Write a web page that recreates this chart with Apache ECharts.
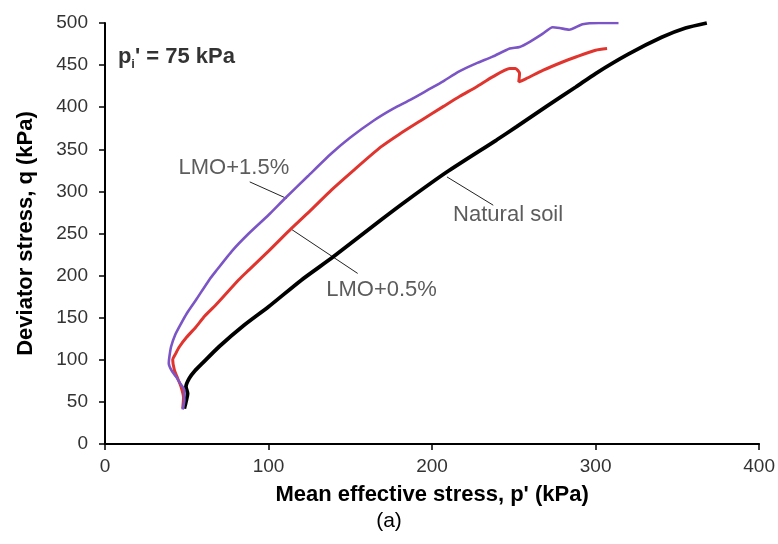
<!DOCTYPE html>
<html><head><meta charset="utf-8">
<script src="https://cdn.jsdelivr.net/npm/echarts@6/dist/echarts.min.js"></script>
<style>html,body{margin:0;padding:0;background:#fff}#c{width:778px;height:544px}</style>
</head><body><div id="c"></div>
<script>
// ---- data (p' kPa, q kPa) ----
const xTickValues = [0, 100, 200, 300, 400];
const yTickValues = [0, 50, 100, 150, 200, 250, 300, 350, 400, 450, 500];

const naturalSoil = [[48.5,42],[49.5,50],[50.5,60],[49.5,68],[51.5,78],[55,87],[59.6,96],[69.7,115.5],[85,141],[100,163],[120,194.6],[139.4,222],[168.7,266],[184.8,289.5],[209,323],[239.4,361],[251.5,376.6],[270,401],[287.9,424],[300,440],[320,463],[340.4,483],[355,494],[368,500]];

const lmo05 = [[47.5,42],[48,55],[46.5,68],[44,80],[42.4,88],[41.4,100],[43.4,108],[45.5,115.5],[50,127],[55.6,139],[61,152],[67.7,165],[81.8,195],[87.9,206.5],[100,229],[114,256],[126,278],[138.4,301.5],[152,325],[168.7,352.8],[180,368],[193,384],[207,401],[217,413],[227,424],[237,436],[247.5,446],[251,446],[253.5,440],[253,430],[257.6,434],[268,444],[279.8,453.7],[287.9,459.6],[300,467.6],[307,469.6]];

const lmo15 = [[47.5,41],[48.5,52],[48.5,64],[46,72],[43.4,80],[40.5,88],[39,96],[39.4,104],[40.4,115.5],[43,130],[46.5,143],[50,155],[55.6,171],[63.6,194.6],[67.7,205],[78,230],[87.9,250],[100,272],[110,291.6],[124,318],[138.4,345],[150,364],[164.6,384.5],[176,398],[186.9,409],[197,420],[207,431],[216,442],[227,452],[237,460],[247.5,469.6],[253.5,471.5],[260,478],[267.7,487.4],[273.7,495],[278,494],[283.8,492],[292,498.5],[302,500],[314,500]];

// annotation anchors and leader lines
const labelAnchors = [
  {name: 'LMO+1.5%', value: [78.8, 327.6]},
  {name: 'LMO+0.5%', value: [169.1, 182.8]},
  {name: 'Natural soil', value: [246.5, 271.8]}
];
const pressureAnchor = [[7.9, 460.5]];
const leaderLmo15 = [[88.5, 311.3], [111.1, 291.6]];
const leaderLmo05 = [[113.2, 256], [154.5, 202.6]];
const leaderNatural = [[209.1, 317.2], [237.4, 283.6]];

const FONT = 'Liberation Sans, Arial, sans-serif';
const chart = echarts.init(document.getElementById('c'), null, {renderer: 'canvas'});

function curve(name, data, color, width) {
  return {name, type: 'line', data, showSymbol: false, symbol: 'none', clip: true, smooth: 0.2,
    lineStyle: {color, width}, z: 3, animation: false};
}
function leader(data) {
  return {type: 'line', data, showSymbol: false, symbol: 'none',
    lineStyle: {color: '#222', width: 1}, z: 2, animation: false, silent: true};
}

chart.setOption({
  animation: false,
  backgroundColor: '#fff',
  grid: {left: 105, right: 13, top: 23, bottom: 100, containLabel: false},
  xAxis: {
    type: 'value', min: xTickValues[0], max: xTickValues[xTickValues.length - 1], interval: 100,
    name: "Mean effective stress, p' (kPa)", nameLocation: 'middle', nameGap: 40,
    nameTextStyle: {fontFamily: FONT, fontSize: 22, fontWeight: 'bold', color: '#000'},
    axisLine: {show: true, onZero: false, lineStyle: {color: '#000', width: 2}},
    axisTick: {show: true, inside: false, length: 6, lineStyle: {color: '#000', width: 1.5}},
    axisLabel: {fontFamily: FONT, fontSize: 19, color: '#333', margin: 13},
    splitLine: {show: false}
  },
  yAxis: {
    type: 'value', min: yTickValues[0], max: yTickValues[yTickValues.length - 1], interval: 50,
    name: 'Deviator stress, q (kPa)', nameLocation: 'middle', nameGap: 68,
    nameTextStyle: {fontFamily: FONT, fontSize: 22, fontWeight: 'bold', color: '#000'},
    axisLine: {show: true, onZero: false, lineStyle: {color: '#000', width: 2}},
    axisTick: {show: true, inside: false, length: 6, lineStyle: {color: '#000', width: 1.5}},
    axisLabel: {fontFamily: FONT, fontSize: 19, color: '#333', margin: 17},
    splitLine: {show: false}
  },
  graphic: [{
    type: 'text', left: 'center', top: 511,
    style: {text: '(a)', font: '21px ' + FONT, fill: '#000'}
  }],
  series: [
    curve('Natural soil', naturalSoil, '#000000', 3.8),
    curve('LMO+0.5%', lmo05, '#e0352f', 3),
    curve('LMO+1.5%', lmo15, '#7b55c6', 2.6),
    leader(leaderLmo15), leader(leaderLmo05), leader(leaderNatural),
    {
      type: 'scatter', data: labelAnchors, symbolSize: 0, z: 5, silent: true,
      label: {show: true, position: 'inside', formatter: '{b}', fontFamily: FONT, fontSize: 22, color: '#333'}
    },
    {
      type: 'scatter', data: pressureAnchor, symbolSize: 0, z: 5, silent: true,
      label: {show: true, position: 'right', distance: 0,
        formatter: "{b|p}{s|i}{b|' = 75 kPa}",
        rich: {
          b: {fontFamily: FONT, fontSize: 22, fontWeight: 'bold', color: '#000', lineHeight: 24, verticalAlign: 'bottom'},
          s: {fontFamily: FONT, fontSize: 13, fontWeight: 'bold', color: '#000', lineHeight: 13, verticalAlign: 'bottom', padding: [0, 0, -3, 0]}
        }
      }
    }
  ]
});
</script></body></html>
